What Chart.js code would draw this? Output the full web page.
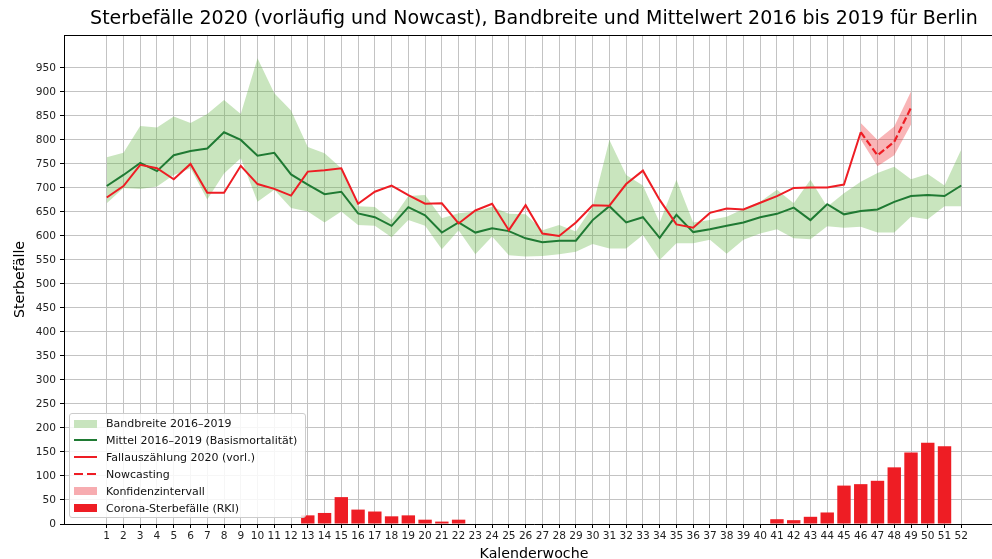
<!DOCTYPE html>
<html>
<head>
<meta charset="utf-8">
<script src="https://cdn.jsdelivr.net/npm/chart.js@4.4.1/dist/chart.umd.min.js"></script>
<style>
  html, body { margin: 0; padding: 0; background: #fff; width: 992px; height: 559px; overflow: hidden; }
  #wrap { position: relative; width: 1068px; height: 559px; }
  #c { position: absolute; left: 0; top: 0; }
  #legend {
    position: absolute; left: 69px; top: 413px; width: 235px; height: 103px;
    background: rgba(255,255,255,0.85); border: 1px solid #cccccc; border-radius: 3px;
    font-family: "DejaVu Sans", sans-serif; font-size: 11px; color: #111;
  }
  .row { position: absolute; left: 0; height: 17px; width: 100%; }
  .row span.t { position: absolute; left: 36px; top: 0; line-height: 17px; white-space: nowrap; }
  .sw { position: absolute; left: 4px; width: 23px; }
</style>
</head>
<body>
<div id="wrap">
  <canvas id="c" width="1068" height="559"></canvas>
  <div id="legend"></div>
</div>
<script>
// ---------- data ----------
const weeks = [1,2,3,4,5,6,7,8,9,10,11,12,13,14,15,16,17,18,19,20,21,22,23,24,25,26,
               27,28,29,30,31,32,33,34,35,36,37,38,39,40,41,42,43,44,45,46,47,48,49,50,51,52];
const yTicks = [0,50,100,150,200,250,300,350,400,450,500,550,600,650,700,750,800,850,900,950];

// Mittel 2016-2019 (weeks 1..52)
const meanValues = [704,727,752,735,768,777,782,816,800,767,773,728,707,687,692,647,639,621,660,643,
                    607,628,607,616,610,595,587,590,590,633,662,628,639,596,644,608,614,621,628,639,
                    646,659,633,666,645,652,655,671,683,685,683,705];
// Bandbreite 2016-2019 upper / lower (weeks 1..52)
const bandUpper = [764,773,829,826,849,835,854,883,854,970,897,861,785,772,741,662,660,633,683,685,
                   637,647,651,661,646,645,612,623,609,661,800,727,705,628,717,628,633,640,656,671,
                   696,668,717,661,689,713,731,744,718,729,705,780];
const bandLower = [668,700,698,703,727,741,676,730,762,671,696,658,651,628,651,623,621,597,633,621,
                   572,612,562,599,560,557,558,562,567,583,574,574,602,550,585,585,592,563,592,605,
                   614,595,593,620,617,619,607,607,640,635,662,662];
// Fallauszählung 2020 (vorl.), weeks 1..46
const count2020 = [680,704,748,741,718,750,690,690,746,708,698,684,734,737,741,667,692,705,685,667,
                   668,626,653,667,612,664,605,600,628,664,663,708,736,675,624,617,648,657,655,669,
                   683,700,701,701,707,816];
// Nowcasting weeks 46..49 with confidence interval
const nowWeeks = [46,47,48,49];
const nowcast = [816,768,796,867];
const ciUpper = [835,800,828,901];
const ciLower = [801,745,768,832];
// Corona-Sterbefälle (RKI), weeks 1..52
const covid = [0,0,0,0,0,0,0,0,0,0,0,0,18,23,56,30,26,16,18,9,5,9,0,0,0,0,0,0,0,0,
               0,0,0,0,0,0,0,0,0,0,10,8,15,24,80,83,90,118,149,169,162,0];

const TITLE = 'Sterbefälle 2020 (vorläufig und Nowcast), Bandbreite und Mittelwert 2016 bis 2019 für Berlin';
const LEGEND = ['Bandbreite 2016–2019','Mittel 2016–2019 (Basismortalität)','Fallauszählung 2020 (vorl.)',
                'Nowcasting','Konfidenzintervall','Corona-Sterbefälle (RKI)'];

// ---------- style ----------
const RED = 'rgb(238,29,36)';
const GREEN = 'rgb(31,122,51)';
const BAND = 'rgba(100,180,70,0.35)';
const CI = 'rgba(238,29,36,0.33)';
const FONT = 'DejaVu Sans';

const pts = (xs, ys) => ys.map((v, i) => ({x: xs[i], y: v}));
const lineBase = {type: 'line', pointRadius: 0, tension: 0, fill: false, yAxisID: 'y'};

const datasets = [
  Object.assign({}, lineBase, {label: LEGEND[3], data: pts(nowWeeks, nowcast), borderColor: RED, borderWidth: 2.2, borderDash: [7, 3]}),
  Object.assign({}, lineBase, {label: LEGEND[2], data: pts(weeks, count2020), borderColor: RED, borderWidth: 2}),
  Object.assign({}, lineBase, {label: LEGEND[1], data: pts(weeks, meanValues), borderColor: GREEN, borderWidth: 2}),
  Object.assign({}, lineBase, {label: LEGEND[4], data: pts(nowWeeks, ciUpper), borderWidth: 0, borderColor: 'transparent', backgroundColor: CI, fill: '+1'}),
  Object.assign({}, lineBase, {label: 'ci-low', data: pts(nowWeeks, ciLower), borderWidth: 0, borderColor: 'transparent'}),
  Object.assign({}, lineBase, {label: LEGEND[0], data: pts(weeks, bandUpper), borderWidth: 0, borderColor: 'transparent', backgroundColor: BAND, fill: '+1'}),
  Object.assign({}, lineBase, {label: 'band-low', data: pts(weeks, bandLower), borderWidth: 0, borderColor: 'transparent'}),
  {type: 'bar', label: LEGEND[5], data: pts(weeks, covid), backgroundColor: RED, borderWidth: 0,
   barPercentage: 0.8, categoryPercentage: 1.0, yAxisID: 'y'}
];

const topSpine = {
  id: 'topSpine',
  afterDraw(chart) {
    const {ctx, chartArea: a} = chart;
    ctx.save();
    ctx.strokeStyle = '#000'; ctx.lineWidth = 1;
    ctx.beginPath(); ctx.moveTo(a.left, a.top + 0.5); ctx.lineTo(a.right, a.top + 0.5); ctx.stroke();
    ctx.restore();
  }
};

const tickFont = {family: FONT, size: 10.6};
const gridOpts = {color: '#c3c3c3', lineWidth: 1, drawTicks: true, tickLength: 4, tickColor: '#000'};

new Chart(document.getElementById('c'), {
  type: 'line',
  data: {datasets},
  plugins: [topSpine],
  options: {
    responsive: false, animation: false, devicePixelRatio: 1,
    layout: {padding: 0},
    plugins: {
      legend: {display: false}, tooltip: {enabled: false},
      title: {display: true, text: TITLE, color: '#000',
              font: {family: FONT, size: 19, weight: 'normal'}, padding: {top: 8, bottom: 4.2}}
    },
    scales: {
      x: {
        type: 'linear', min: -1.55, max: 54.55, offset: false,
        afterBuildTicks: s => { s.ticks = weeks.map(v => ({value: v})); },
        afterFit: s => { s.height = 35; },
        ticks: {autoSkip: false, maxRotation: 0, minRotation: 0, font: tickFont, color: '#222', padding: 2,
                callback: v => String(v)},
        grid: Object.assign({offset: false}, gridOpts),
        border: {color: '#000', width: 1},
        title: {display: true, text: 'Kalenderwoche', color: '#000',
                font: {family: FONT, size: 14.2, lineHeight: 1}, padding: {top: 0, bottom: -2}}
      },
      y: {
        type: 'linear', position: 'left', min: 0, max: 1018.5,
        afterBuildTicks: s => { s.ticks = yTicks.map(v => ({value: v})); },
        afterFit: s => { s.width = 64; },
        ticks: {font: tickFont, color: '#222', padding: 4, callback: v => String(v)},
        grid: gridOpts,
        border: {color: '#000', width: 1},
        title: {display: true, text: 'Sterbefälle', color: '#000',
                font: {family: FONT, size: 14.2, lineHeight: 1.2}, padding: {top: 12, bottom: 0}}
      },
      yRightSpace: {
        type: 'linear', position: 'right', min: 0, max: 1018.5, display: true,
        afterFit: s => { s.width = 64; },
        ticks: {display: false}, grid: {display: false, drawTicks: false}, border: {display: false}
      }
    }
  }
});

// ---------- legend (HTML, real text) ----------
const swatches = [
  {top: 4.5, h: 8, bg: 'rgb(200,228,190)'},
  {top: 7.5, h: 2, bg: GREEN},
  {top: 7.5, h: 2, bg: RED},
  {top: 7.5, h: 2, bg: 'repeating-linear-gradient(to right,' + RED + ' 0px,' + RED + ' 9px,transparent 9px,transparent 13px)'},
  {top: 4.5, h: 8, bg: 'rgb(247,172,176)'},
  {top: 4.5, h: 8, bg: RED}
];
const leg = document.getElementById('legend');
LEGEND.forEach((txt, i) => {
  const row = document.createElement('div');
  row.className = 'row';
  row.style.top = (1 + i * 16.9) + 'px';
  const sw = document.createElement('div');
  sw.className = 'sw';
  sw.style.top = swatches[i].top + 'px';
  sw.style.height = swatches[i].h + 'px';
  sw.style.background = swatches[i].bg;
  const t = document.createElement('span');
  t.className = 't';
  t.textContent = txt;
  row.appendChild(sw); row.appendChild(t);
  leg.appendChild(row);
});
</script>
</body>
</html>
